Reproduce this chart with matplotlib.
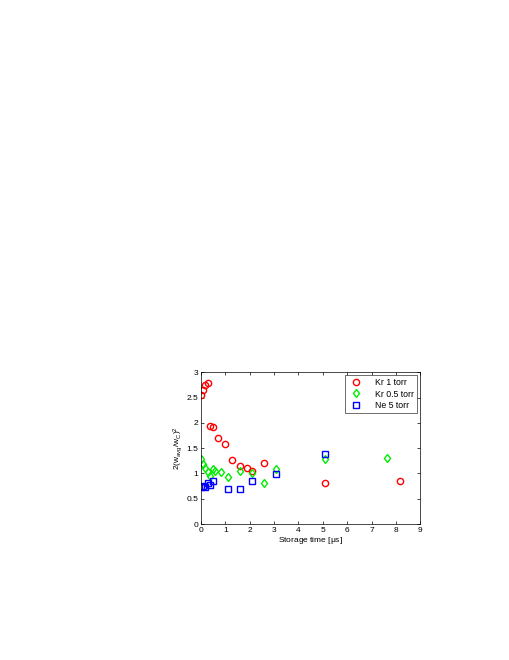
import numpy as np
import matplotlib
matplotlib.use("Agg")
import matplotlib.pyplot as plt

# Kr 1 torr
kr1_t = [0.0, 0.1, 0.18, 0.29, 0.37, 0.48, 0.69, 0.99, 1.28, 1.59, 1.91, 2.09, 2.6, 5.11, 8.15]
kr1_w = [2.55, 2.65, 2.74, 2.78, 1.93, 1.91, 1.71, 1.58, 1.26, 1.14, 1.10, 1.05, 1.21, 0.82, 0.86]

# Kr 0.5 torr
kr05_t = [0.0, 0.07, 0.16, 0.27, 0.37, 0.48, 0.58, 0.84, 1.1, 1.59, 2.1, 2.6, 3.1, 5.11, 7.64]
kr05_w = [1.28, 1.18, 1.11, 1.03, 0.95, 1.09, 1.05, 1.03, 0.92, 1.05, 1.01, 0.82, 1.08, 1.29, 1.31]

# Ne 5 torr
ne5_t = [0.0, 0.08, 0.18, 0.27, 0.38, 0.48, 1.1, 1.59, 2.09, 3.1, 5.11]
ne5_w = [0.74, 0.76, 0.74, 0.81, 0.78, 0.85, 0.69, 0.69, 0.86, 0.99, 1.38]

plt.rcParams['font.family'] = ['Liberation Sans', 'DejaVu Sans']
plt.rcParams['mathtext.fontset'] = 'custom'
plt.rcParams['mathtext.rm'] = 'Liberation Sans'
plt.rcParams['mathtext.it'] = 'Liberation Sans'

fig = plt.figure(figsize=(5.1, 6.6), dpi=100)
ax = fig.add_axes([0.394, 0.206, 0.430, 0.230])

ax.plot(kr1_t, kr1_w, 'o', mfc='none', mec='#ff0000', mew=1.0, ms=4.5, label='Kr 1 torr')
ax.plot(kr05_t, kr05_w, 'd', mfc='none', mec='#00ee00', mew=1.0, ms=4.5, label='Kr 0.5 torr')
ax.plot(ne5_t, ne5_w, 's', mfc='none', mec='#0000ff', mew=1.0, ms=3.8, label='Ne 5 torr')

ax.set_xlim(0, 9)
ax.set_ylim(0, 3)
ax.set_xticks(np.arange(0, 10, 1))
ax.set_yticks(np.arange(0, 3.01, 0.5))
ax.set_yticklabels(['0', '0.5', '1', '1.5', '2', '2.5', '3'])
ax.tick_params(direction='in', length=2.0, width=0.5, labelsize=6, pad=2, top=True, right=True)
for s in ax.spines.values():
    s.set_linewidth(0.5)

ax.set_xlabel(r'Storage time [$\mu$s]', fontsize=6, labelpad=1)
ax.set_ylabel(r'2(w$_{\rm avg}$/w$_{\rm C}$)$^2$', fontsize=6, labelpad=1)

leg = ax.legend(loc='upper right', fontsize=6.3, frameon=True, fancybox=False,
                edgecolor='black', borderaxespad=0.35, handletextpad=1.3,
                labelspacing=0.25, borderpad=0.35, handlelength=1.8)
leg.get_frame().set_linewidth(0.5)

fig.savefig('out.png', dpi=100)
